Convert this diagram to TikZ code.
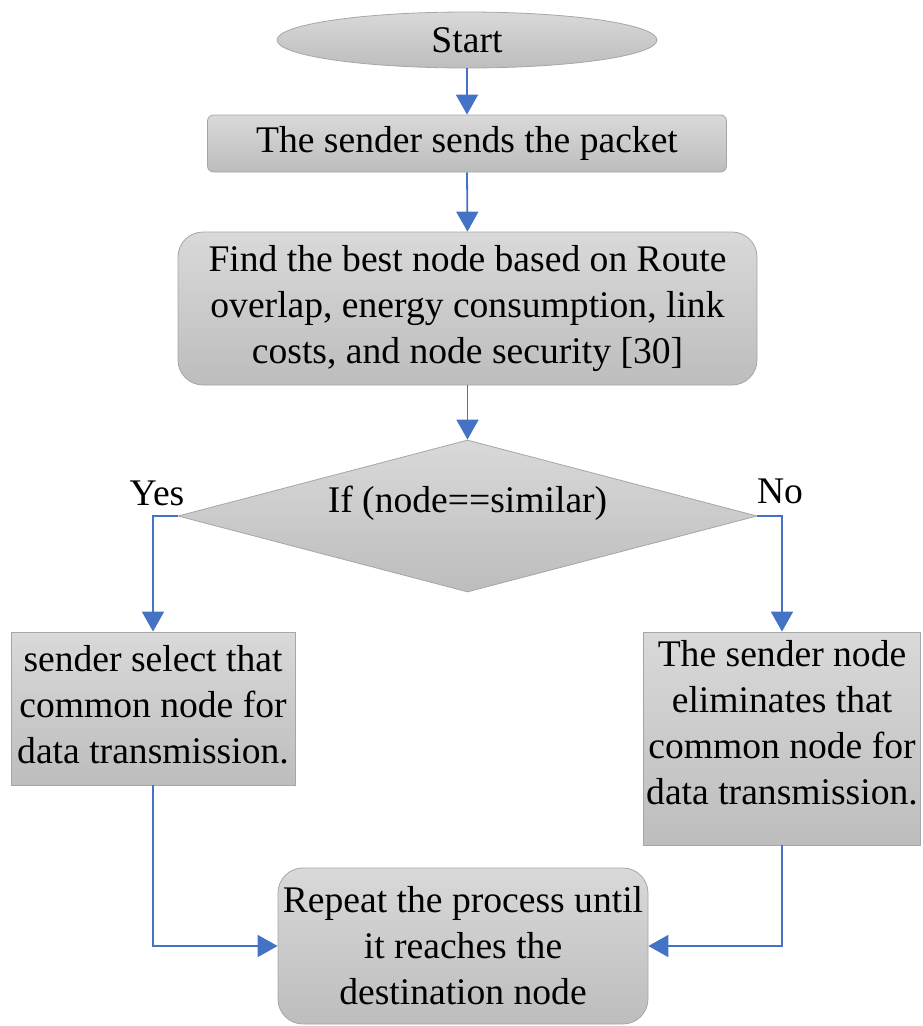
\documentclass[tikz,border=0pt]{standalone}
\usepackage{fontspec}
\setmainfont{Liberation Serif}
\usetikzlibrary{arrows.meta,shapes.geometric}
\definecolor{flowblue}{HTML}{4472C4}
\definecolor{boxtop}{HTML}{D9D9D9}
\definecolor{boxbot}{HTML}{BDBDBD}
\definecolor{boxline}{HTML}{A6A6A6}
\begin{document}
\begin{tikzpicture}[x=1pt,y=-1pt,
  box/.style={draw=boxline, line width=0.8pt, top color=boxtop, bottom color=boxbot, inner sep=0pt},
  txt/.style={font=\fontsize{37.6}{46}\selectfont, align=center, inner sep=0pt},
  flow/.style={draw=flowblue, line width=1.8pt, -{Triangle[width=22pt,length=20pt]}}]

\useasboundingbox (0,0) rectangle (922,1026);

% process steps
\node[box, txt, ellipse, minimum width=380pt, minimum height=56pt] (start) at (467,40) {Start};
\node[box, txt, rounded corners=6pt, minimum width=519pt, minimum height=57pt] (send) at (467,143.5) {The sender sends the packet};
\node[box, txt, rounded corners=25pt, minimum width=579pt, minimum height=153pt] (find) at (467.5,308.5)
  {Find the best node based on Route\\overlap, energy consumption, link\\costs, and node security [30]};

% decision
\node[box, diamond, minimum width=579pt, minimum height=152pt] (dec) at (467.5,516) {};
\node[txt] (dectext) at (467.5,503) {If (node==similar)};
\node[txt] (yes) at (157,493) {Yes};
\node[txt] (no) at (780,491) {No};

% branches
\node[box, minimum width=284pt, minimum height=153pt] (left) at (153,708.5) {};
\node[txt] (lefttext) at (153,705) {sender select that\\common node for\\data transmission.};
\node[box, minimum width=277pt, minimum height=213pt] (right) at (782,738.5) {};
\node[txt] (righttext) at (782,723) {The sender node\\eliminates that\\common node for\\data transmission.};

% final step
\node[box, txt, rounded corners=25pt, minimum width=370pt, minimum height=156pt] (final) at (463,946)
  {Repeat the process until\\it reaches the\\destination node};

% connectors
\draw[flow] (start.south) -- (send.north);
\draw[flow] (send.south) -- (find.north);
\draw[flow] (find.south) -- (dec.north);
\draw[flow] (dec.west) -| (left.north);
\draw[flow] (dec.east) -| (right.north);
\draw[flow] (left.south) |- (final.west);
\draw[flow] (right.south) |- (final.east);
\end{tikzpicture}
\end{document}
